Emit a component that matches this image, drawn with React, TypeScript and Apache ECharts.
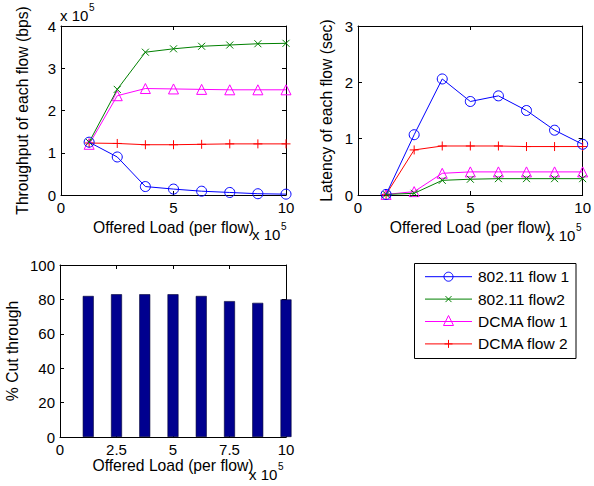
import React, { useEffect, useRef } from "react";
import * as echarts from "echarts";

const loads = [1.25, 2.5, 3.75, 5, 6.25, 7.5, 8.75, 10];
const seriesNames = ["802.11 flow 1", "802.11 flow2", "DCMA flow 1", "DCMA flow 2"];
const thr80211f1 = [1.25, 0.9, 0.2, 0.14, 0.09, 0.06, 0.03, 0.02];
const thr80211f2 = [1.25, 2.5, 3.38, 3.46, 3.52, 3.55, 3.58, 3.59];
const thrDcma1 = [1.2, 2.35, 2.52, 2.51, 2.5, 2.49, 2.49, 2.49];
const thrDcma2 = [1.23, 1.22, 1.19, 1.19, 1.2, 1.21, 1.21, 1.21];
const lat80211f1 = [0.01, 1.07, 2.06, 1.66, 1.76, 1.5, 1.15, 0.9];
const lat80211f2 = [0.01, 0.03, 0.26, 0.28, 0.29, 0.29, 0.29, 0.29];
const latDcma1 = [0.01, 0.06, 0.385, 0.41, 0.41, 0.41, 0.41, 0.41];
const latDcma2 = [0.01, 0.8, 0.87, 0.87, 0.87, 0.86, 0.86, 0.86];
const cutThrough = [82, 83, 83, 83, 82, 79, 78, 80];

const FONT = "'Liberation Sans', Arial, Helvetica, sans-serif";
const colors = ["#0000ff", "#008000", "#ff00ff", "#ff0000"];
const symbols = [
  "circle",
  "path://M0,0L10,10M10,0L0,10",
  "triangle",
  "path://M5,0L5,10M0,5L10,5",
];
const symbolSizes = [10, 7, 10, 9];

function makeAxes(
  gridIndex: number,
  xr: [number, number, number],
  yr: [number, number, number],
  xname: string,
  yname: string,
  xgap: number,
  ygap: number
) {
  const line = { show: true, onZero: false, lineStyle: { color: "#000", width: 1 } };
  const tick = { show: true, inside: true, length: 4, lineStyle: { color: "#000" } };
  const label = { color: "#000", fontSize: 15, fontFamily: FONT, margin: 5 };
  const nameStyle = { color: "#000", fontSize: 15.7, fontFamily: FONT };
  const x = [
    {
      type: "value", gridIndex, position: "bottom", min: xr[0], max: xr[1], interval: xr[2],
      axisLine: line, axisTick: tick, axisLabel: label, splitLine: { show: false },
      name: xname, nameLocation: "middle", nameGap: xgap, nameTextStyle: nameStyle,
    },
    {
      type: "value", gridIndex, position: "top", min: xr[0], max: xr[1], interval: xr[2],
      axisLine: line, axisTick: tick, axisLabel: { show: false }, splitLine: { show: false },
    },
  ];
  const y = [
    {
      type: "value", gridIndex, position: "left", min: yr[0], max: yr[1], interval: yr[2],
      axisLine: line, axisTick: tick, axisLabel: label, splitLine: { show: false },
      name: yname, nameLocation: "middle", nameGap: ygap, nameTextStyle: nameStyle,
    },
    {
      type: "value", gridIndex, position: "right", min: yr[0], max: yr[1], interval: yr[2],
      axisLine: line, axisTick: tick, axisLabel: { show: false }, splitLine: { show: false },
    },
  ];
  return { x, y };
}

function lineSeries(i: number, values: number[], xAxisIndex: number, yAxisIndex: number) {
  const c = colors[i];
  return {
    type: "line",
    name: seriesNames[i],
    xAxisIndex,
    yAxisIndex,
    data: loads.map((v, k) => [v, values[k]]),
    symbol: symbols[i],
    symbolSize: symbolSizes[i],
    showAllSymbol: true,
    color: c,
    itemStyle: { color: "rgba(0,0,0,0)", borderColor: c, borderWidth: 1 },
    lineStyle: { color: c, width: 1 },
    emphasis: { disabled: true },
    z: 10 - i,
  };
}

function supText(x: number, y: number) {
  return [
    {
      type: "text", x, y,
      style: { text: "x 10", fontSize: 15, fontFamily: FONT, fill: "#000", verticalAlign: "middle", align: "left" },
    },
    {
      type: "text", x: x + 29, y: y - 8,
      style: { text: "5", fontSize: 10, fontFamily: FONT, fill: "#000", verticalAlign: "middle", align: "left" },
    },
  ];
}

function legendGraphics() {
  const els: any[] = [
    {
      type: "rect",
      shape: { x: 414.5, y: 263.5, width: 161.5, height: 95 },
      style: { fill: "#fff", stroke: "#000", lineWidth: 1 },
      z: 100,
    },
  ];
  const x0 = 425, x1 = 472, xm = 448.5;
  seriesNames.forEach((name, i) => {
    const y = 276.7 + i * 22.4;
    const c = colors[i];
    const st = { stroke: c, lineWidth: 1, fill: "none" };
    els.push({ type: "line", shape: { x1: x0, y1: y, x2: x1, y2: y }, style: st, z: 101 });
    if (i === 0) {
      els.push({ type: "circle", shape: { cx: xm, cy: y, r: 4.5 }, style: st, z: 102 });
    } else if (i === 1) {
      els.push({ type: "line", shape: { x1: xm - 3, y1: y - 3, x2: xm + 3, y2: y + 3 }, style: st, z: 102 });
      els.push({ type: "line", shape: { x1: xm - 3, y1: y + 3, x2: xm + 3, y2: y - 3 }, style: st, z: 102 });
    } else if (i === 2) {
      els.push({
        type: "polygon",
        shape: { points: [[xm, y - 6], [xm + 5, y + 4], [xm - 5, y + 4]] },
        style: st,
        z: 102,
      });
    } else {
      els.push({ type: "line", shape: { x1: xm - 4, y1: y, x2: xm + 4, y2: y }, style: st, z: 102 });
      els.push({ type: "line", shape: { x1: xm, y1: y - 4, x2: xm, y2: y + 4 }, style: st, z: 102 });
    }
    els.push({
      type: "text",
      x: 478,
      y,
      style: { text: name, fontSize: 15.5, fontFamily: FONT, fill: "#000", verticalAlign: "middle", align: "left" },
      z: 102,
    });
  });
  return els;
}

export default function App() {
  const ref = useRef<HTMLDivElement>(null);
  useEffect(() => {
    if (!ref.current) return;
    const chart = echarts.init(ref.current, undefined, { renderer: "svg" });
    const a0 = makeAxes(0, [0, 10, 5], [0, 4, 1], "Offered Load (per flow)", "Throughput of each flow (bps)", 24, 31);
    const a1 = makeAxes(1, [0, 10, 5], [0, 3, 1], "Offered Load (per flow)", "Latency of each flow (sec)", 24, 24);
    const a2 = makeAxes(2, [0, 10, 2.5], [0, 100, 20], "Offered Load (per flow)", "% Cut through", 16, 40);
    const option: any = {
      animation: false,
      backgroundColor: "#fff",
      textStyle: { fontFamily: FONT },
      grid: [
        { left: 61, top: 26, width: 225, height: 169, containLabel: false },
        { left: 358, top: 26, width: 225, height: 169, containLabel: false },
        { left: 60, top: 265, width: 226, height: 172, containLabel: false },
      ],
      xAxis: [...a0.x, ...a1.x, ...a2.x],
      yAxis: [...a0.y, ...a1.y, ...a2.y],
      series: [
        lineSeries(0, thr80211f1, 0, 0),
        lineSeries(1, thr80211f2, 0, 0),
        lineSeries(2, thrDcma1, 0, 0),
        lineSeries(3, thrDcma2, 0, 0),
        lineSeries(0, lat80211f1, 2, 2),
        lineSeries(1, lat80211f2, 2, 2),
        lineSeries(2, latDcma1, 2, 2),
        lineSeries(3, latDcma2, 2, 2),
        {
          type: "bar",
          name: "cut",
          xAxisIndex: 4,
          yAxisIndex: 4,
          data: loads.map((v, k) => [v, cutThrough[k]]),
          barWidth: 11,
          itemStyle: { color: "#00008f", borderColor: "#000033", borderWidth: 0.6 },
          emphasis: { disabled: true },
        },
      ],
      graphic: [
        ...supText(60, 15),
        ...supText(252, 234),
        ...supText(547, 235),
        ...supText(249, 474),
        ...legendGraphics(),
      ],
    };
    chart.setOption(option);
    return () => chart.dispose();
  }, []);
  return <div ref={ref} style={{ width: 594, height: 486, position: "absolute", left: 0, top: 0 }} />;
}
